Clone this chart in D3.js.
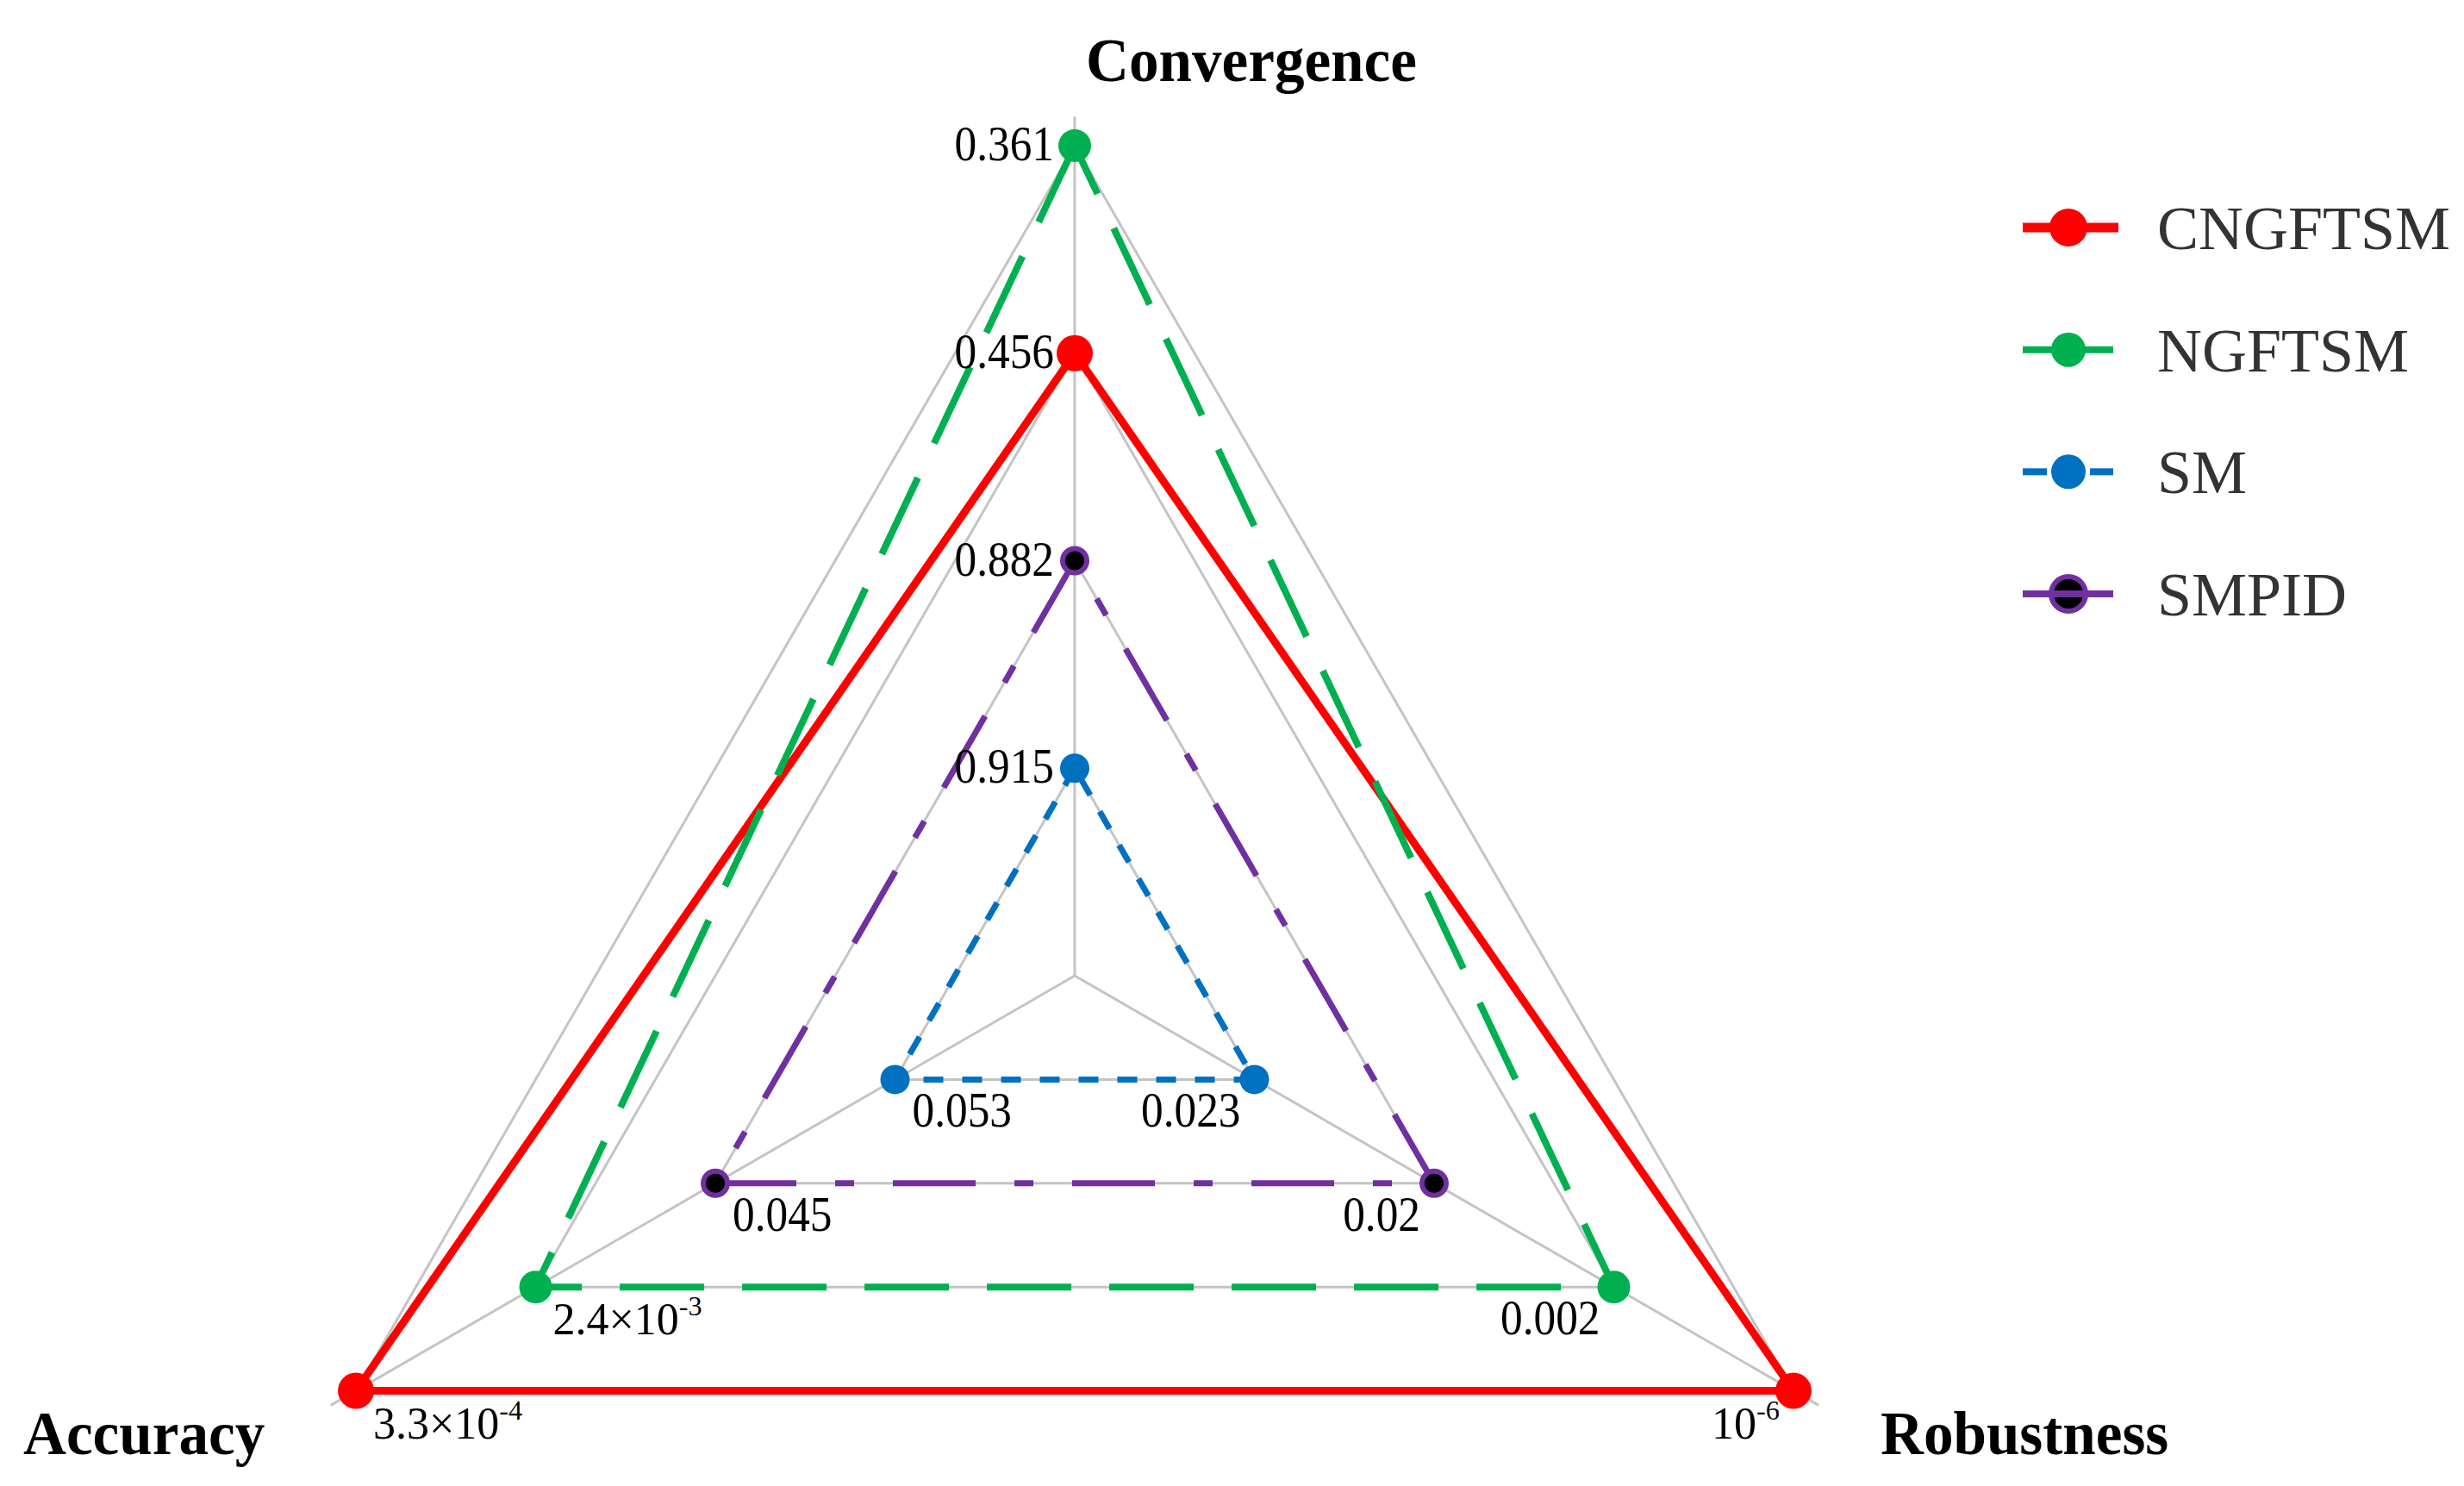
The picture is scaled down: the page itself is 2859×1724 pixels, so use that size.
<!DOCTYPE html>
<html><head><meta charset="utf-8">
<script src="https://cdn.jsdelivr.net/npm/d3@7"></script>
<style>html,body{margin:0;padding:0;background:#fff;}svg{display:block;}</style>
</head><body>
<script>
// ---- data ----
const axesNames = ["Convergence", "Accuracy", "Robustness"];
const seriesNames = ["CNGFTSM", "NGFTSM", "SM", "SMPID"];
// radial rank level per axis (outer = better)
const cngftsmLevel = [3, 4, 4];
const ngftsmLevel  = [4, 3, 3];
const smLevel      = [1, 1, 1];
const smpidLevel   = [2, 2, 2];
// printed values per axis
const cngftsmLabels = ["0.456", "3.3×10^-4", "10^-6"];
const ngftsmLabels  = ["0.361", "2.4×10^-3", "0.002"];
const smLabels      = ["0.915", "0.053", "0.023"];
const smpidLabels   = ["0.882", "0.045", "0.02"];
const gridLevels = [1, 2, 3, 4];

const W = 2859, H = 1724;
const cx = 1247, cy = 1132;
const rScale = d3.scaleLinear().domain([0, 4]).range([0, 963]);
const angOf = i => [0, -2*Math.PI/3, 2*Math.PI/3][i];
function pt(i, lvl) {
  const a = angOf(i), r = rScale(lvl);
  return [cx + r*Math.sin(a), cy - r*Math.cos(a)];
}

const styles = {
  CNGFTSM: {color: "#FF0000", dash: null, width: 9, r: 21, fill: "#FF0000", stroke: "none", sw: 0},
  NGFTSM:  {color: "#00B050", dash: "98 44", width: 8, r: 19, fill: "#00B050", stroke: "none", sw: 0},
  SM:      {color: "#0070C0", dash: "23 22", width: 7, r: 17, fill: "#0070C0", stroke: "none", sw: 0},
  SMPID:   {color: "#7030A0", dash: "96 45 22 45", width: 7, r: 14, fill: "#000000", stroke: "#7030A0", sw: 6}
};
const seriesData = [
  {name: "CNGFTSM", levels: cngftsmLevel, labels: cngftsmLabels},
  {name: "NGFTSM", levels: ngftsmLevel, labels: ngftsmLabels},
  {name: "SM", levels: smLevel, labels: smLabels},
  {name: "SMPID", levels: smpidLevel, labels: smpidLabels}
];

const svg = d3.select("body").append("svg").attr("width", W).attr("height", H);
svg.append("rect").attr("width", W).attr("height", H).attr("fill", "#fff");

const serif = "'Liberation Serif','Times New Roman',serif";

// grid
const g = svg.append("g");
gridLevels.forEach(l => {
  const pts = axesNames.map((_, i) => pt(i, l));
  g.append("path").attr("d", d3.line()(pts) + "Z")
    .attr("fill", "none").attr("stroke", "#C4C4C4").attr("stroke-width", 3);
});
axesNames.forEach((_, i) => {
  const [x, y] = pt(i, 4.14);
  g.append("line").attr("x1", cx).attr("y1", cy).attr("x2", x).attr("y2", y)
    .attr("stroke", "#C4C4C4").attr("stroke-width", 3);
});

// series lines
seriesData.forEach(s => {
  const st = styles[s.name];
  const pts = s.levels.map((l, i) => pt(i, l));
  svg.append("path").attr("d", d3.line()(pts) + "Z")
    .attr("fill", "none").attr("stroke", st.color).attr("stroke-width", st.width)
    .attr("stroke-dasharray", st.dash).attr("stroke-linejoin", "round");
});
// markers
seriesData.forEach(s => {
  const st = styles[s.name];
  s.levels.forEach((l, i) => {
    const [x, y] = pt(i, l);
    svg.append("circle").attr("cx", x).attr("cy", y).attr("r", st.r)
      .attr("fill", st.fill).attr("stroke", st.stroke).attr("stroke-width", st.sw);
  });
});

function addLabel(x, y, str, anchor, size, cond) {
  const t = svg.append("text").attr("x", x).attr("y", y).attr("text-anchor", anchor)
    .attr("font-family", serif).attr("font-size", size).attr("fill", "#000");
  const parts = str.split("^");
  t.append("tspan").text(parts[0]);
  if (parts[1]) {
    t.append("tspan").attr("dy", -size*0.42).attr("font-size", size*0.62).text(parts[1]);
  } else {
    const w = t.node().getComputedTextLength();
    t.attr("textLength", w*cond).attr("lengthAdjust", "spacingAndGlyphs");
  }
  return t;
}

// value labels
seriesData.forEach(s => {
  s.levels.forEach((l, i) => {
    const [x, y] = pt(i, l);
    const lab = s.labels[i];
    const sz = lab.includes("^") ? 52 : 57;
    if (i === 0) addLabel(x - 24, y + 17, lab, "end", sz, 0.9);
    else if (i === 1) addLabel(x + 20, y + 55, lab, "start", sz, 0.9);
    else addLabel(x - 16, y + 55, lab, "end", sz, 0.9);
  });
});

// axis titles
const titlePos = [[1452, 94, "middle"], [27, 1687, "start"], [2182, 1687, "start"]];
axesNames.forEach((n, i) => {
  const t = svg.append("text").attr("x", titlePos[i][0]).attr("y", titlePos[i][1])
    .attr("text-anchor", titlePos[i][2]).attr("font-family", serif)
    .attr("font-weight", "bold").attr("font-size", 72).attr("fill", "#000").text(n);
  const w = t.node().getComputedTextLength();
  t.attr("textLength", w*0.96).attr("lengthAdjust", "spacingAndGlyphs");
});

// legend
const legY = d3.scalePoint().domain(seriesNames).range([264, 689]);
seriesNames.forEach(n => {
  const st = styles[n];
  const y = legY(n);
  const lg = svg.append("g");
  if (n === "SM") {
    lg.append("line").attr("x1", 2347).attr("x2", 2375).attr("y1", y).attr("y2", y)
      .attr("stroke", st.color).attr("stroke-width", 8);
    lg.append("line").attr("x1", 2425).attr("x2", 2452).attr("y1", y).attr("y2", y)
      .attr("stroke", st.color).attr("stroke-width", 8);
  } else {
    lg.append("line").attr("x1", 2347).attr("x2", n === "CNGFTSM" ? 2458 : 2452).attr("y1", y).attr("y2", y)
      .attr("stroke", st.color).attr("stroke-width", n === "CNGFTSM" ? 11 : 8);
  }
  lg.append("circle").attr("cx", 2400).attr("cy", y).attr("r", n === "CNGFTSM" ? 22 : 20)
    .attr("fill", st.fill).attr("stroke", st.stroke).attr("stroke-width", st.sw);
  if (n === "SMPID") {
    lg.append("line").attr("x1", 2347).attr("x2", 2452).attr("y1", y).attr("y2", y)
      .attr("stroke", st.color).attr("stroke-width", 8);
  }
  svg.append("text").attr("x", 2503).attr("y", y + 25).attr("font-family", serif)
    .attr("font-size", 72).attr("fill", "#333").text(n);
});
</script>
</body></html>
